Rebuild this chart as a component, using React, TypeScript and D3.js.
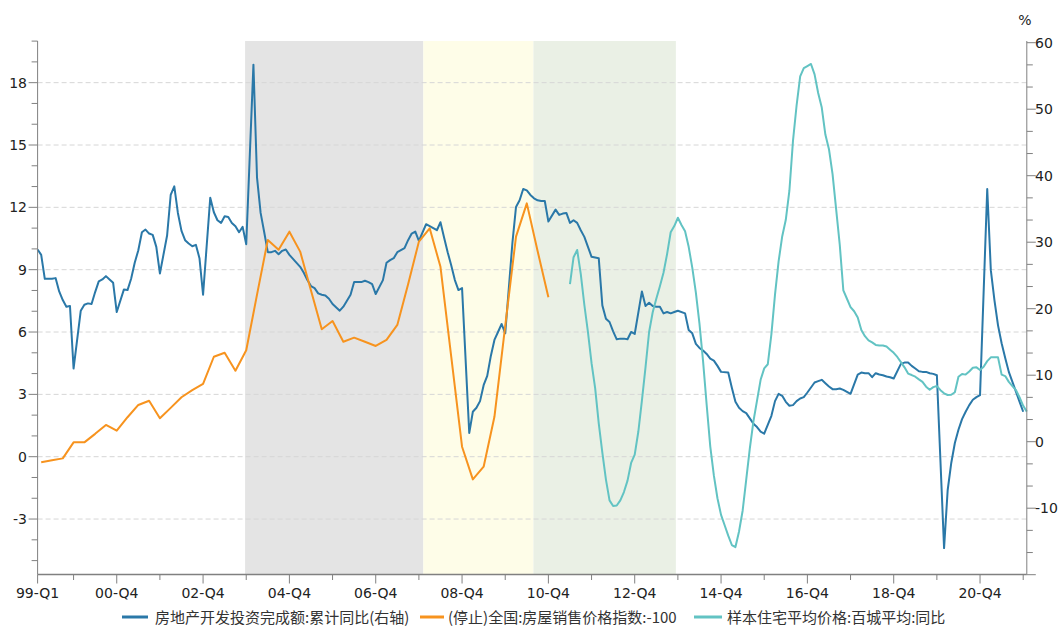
import React from "react";
import * as d3 from "d3";

const WIDTH = 1061;
const HEIGHT = 626;

// 房地产开发投资完成额:累计同比 (右轴) — monthly, Feb..Dec of each year
const investYears = [
  1999, 2000, 2001, 2002, 2003, 2004, 2005, 2006, 2007, 2008, 2009, 2010,
  2011, 2012, 2013, 2014, 2015, 2016, 2017, 2018, 2019, 2020, 2021,
];
const investMonths = [2, 3, 4, 5, 6, 7, 8, 9, 10, 11, 12];
const investYoY: number[][] = [
  [28.9, 28.1, 24.5, 24.5, 24.5, 24.6, 22.6, 21.3, 20.3, 20.4, 11.0],
  [19.7, 20.6, 20.8, 20.7, 22.5, 24.1, 24.4, 24.9, 24.4, 23.9, 19.5],
  [22.9, 22.8, 24.5, 26.9, 28.8, 31.5, 31.9, 31.3, 31.1, 29.3, 25.3],
  [31.0, 37.1, 38.4, 34.4, 31.7, 30.3, 29.8, 29.4, 29.6, 27.6, 22.1],
  [36.7, 34.5, 33.3, 32.9, 33.9, 33.8, 32.9, 32.4, 31.5, 32.3, 29.7],
  [56.7, 39.7, 34.4, 31.5, 28.5, 28.5, 28.7, 28.2, 28.7, 28.9, 28.1],
  [26.9, 26.3, 25.4, 24.3, 23.4, 23.1, 22.3, 22.1, 22.0, 21.5, 20.7],
  [19.7, 20.3, 21.2, 22.1, 24.0, 24.0, 24.0, 24.2, 24.0, 23.7, 22.2],
  [24.3, 26.9, 27.3, 27.6, 28.5, 28.8, 29.1, 30.3, 31.3, 31.6, 30.2],
  [32.7, 32.4, 32.1, 31.8, 33.0, 30.7, 28.5, 26.5, 24.3, 22.8, 23.1],
  [1.3, 4.5, 5.1, 6.1, 8.5, 9.9, 12.9, 15.3, 16.5, 17.7, 16.3],
  [29.9, 35.3, 36.3, 38.0, 37.8, 37.1, 36.6, 36.3, 36.2, 36.2, 33.1],
  [34.9, 34.1, 34.3, 34.4, 32.9, 33.3, 32.9, 31.8, 30.8, 29.3, 27.8],
  [27.6, 20.5, 18.5, 18.0, 16.6, 15.4, 15.5, 15.5, 15.4, 16.5, 16.2],
  [22.6, 20.4, 20.9, 20.4, 20.3, 20.3, 19.3, 19.5, 19.3, 19.5, 19.7],
  [19.3, 16.8, 16.3, 14.7, 14.1, 13.7, 13.2, 12.5, 12.2, 11.4, 10.5],
  [10.4, 8.1, 6.0, 5.1, 4.6, 4.3, 3.5, 2.7, 2.2, 1.5, 1.2],
  [3.9, 6.1, 7.2, 6.9, 6.0, 5.4, 5.5, 6.1, 6.5, 6.7, 7.4],
  [8.9, 9.1, 9.3, 8.8, 8.3, 7.9, 7.9, 8.0, 7.8, 7.5, 7.2],
  [10.1, 10.4, 10.3, 10.3, 9.7, 10.3, 10.1, 10.0, 9.8, 9.7, 9.5],
  [11.7, 11.9, 11.9, 11.4, 11.0, 10.6, 10.5, 10.5, 10.3, 10.2, 10.0],
  [-16.0, -7.3, -3.2, -0.2, 1.8, 3.4, 4.5, 5.5, 6.3, 6.7, 7.0],
  [38.0, 25.8, 21.3, 17.5, 14.8, 12.6, 10.5, 9.0, 7.5, 6.0, 4.5],
];

// (停止)全国:房屋销售价格指数:-100 — quarterly, 1999-Q1 .. 2010-Q4
const priceStartYear = 1999;
const priceIndex = [
  -0.27, -0.17, -0.08, 0.69,
  0.69, 1.1, 1.53, 1.25,
  1.9, 2.49, 2.69, 1.85,
  2.35, 2.86, 3.2, 3.5,
  4.81, 5.0, 4.14, 5.12,
  7.8, 10.43, 9.96, 10.83,
  9.87, 8.0, 6.13, 6.53,
  5.53, 5.73, 5.53, 5.33,
  5.62, 6.34, 8.3, 10.35,
  10.99, 9.14, 4.8, 0.48,
  -1.09, -0.48, 1.92, 6.3,
  10.59, 12.19, 9.9, 7.67,
];

// 样本住宅平均价格:百城平均:同比 — monthly from 2011-06
const cityStartYear = 2011;
const cityStartMonth = 6;
const cityPriceYoY = [
  8.3, 9.6, 9.95, 8.8, 7.3, 6.0, 4.5,
  3.3, 1.6, 0.2, -1.1, -2.1, -2.37, -2.35, -2.1, -1.7, -1.15, -0.3, 0.1,
  1.2, 2.7, 4.3, 6.0, 6.95, 7.6, 8.2, 8.85, 9.75, 10.8, 11.1, 11.5,
  11.15, 10.85, 10.1, 9.1, 7.9, 6.4, 4.6, 2.5, 0.5, -0.9, -2.0, -2.8,
  -3.3, -3.8, -4.25, -4.35, -3.6, -2.6, -1.1, 0.4, 1.7, 2.7, 3.7, 4.25,
  4.45, 5.9, 7.8, 9.4, 10.6, 11.4, 12.8, 15.2, 16.9, 18.3, 18.7, 18.8,
  18.9, 18.4, 17.5, 16.8, 15.5, 14.8, 13.6, 11.9, 10.2, 8.0, 7.6, 7.2,
  7.0, 6.7, 6.1, 5.8, 5.6, 5.5, 5.38, 5.35, 5.35, 5.3, 5.15, 5.0,
  4.8, 4.55, 4.3, 4.0, 3.93, 3.85, 3.72, 3.6, 3.37, 3.22, 3.35, 3.4,
  3.2, 3.05, 2.97, 2.98, 3.1, 3.85, 3.98, 3.95, 4.1, 4.28, 4.3, 4.17,
  4.33, 4.6, 4.78, 4.78, 4.78, 3.95, 3.88, 3.6, 3.4, 3.2, 2.85, 2.45,
  2.17,
];

// shaded periods (decimal years)
const bandFrom = [2003.89, 2008.02, 2010.57];
const bandTo = [2008.02, 2010.57, 2013.87];
const bandColors = ["#e4e4e4", "#fefde8", "#eaf0e5"];

const xLabels = [
  "99-Q1", "00-Q4", "02-Q4", "04-Q4", "06-Q4", "08-Q4", "10-Q4",
  "12-Q4", "14-Q4", "16-Q4", "18-Q4", "20-Q4",
];
const leftLabels = [-3, 0, 3, 6, 9, 12, 15, 18];
const rightLabels = [-10, 0, 10, 20, 30, 40, 50, 60];
const legendLabels = [
  "房地产开发投资完成额:累计同比(右轴)",
  "(停止)全国:房屋销售价格指数:-100",
  "样本住宅平均价格:百城平均:同比",
];

const COLORS = ["#2a78a8", "#f7931e", "#62c3c3"];
const AXIS = "#808080";
const TEXT = "#222";
const FONT = "'DejaVu Sans', Verdana, sans-serif";
const CJK = "'Noto Sans CJK SC', 'Noto Sans', sans-serif";

const ym = (y: number, m: number) => y + (m - 1) / 12;

export default function App() {
  const left = 37.6;
  const right = 1026.8;
  const top = 41;
  const bottom = 574.5;

  const x = d3.scaleLinear().domain([ym(1999, 2), ym(2022, 1)]).range([left, right]);
  const yL = d3.scaleLinear().domain([0, 20]).range([456.7, 41.1]);
  const yR = d3.scaleLinear().domain([-20, 60]).range([574.7, 42.7]);

  const investPts: [number, number][] = investYoY.flatMap((vals, i) =>
    vals.map((v, j) => [ym(investYears[i], investMonths[j]), v] as [number, number])
  );
  const pricePts: [number, number][] = priceIndex.map((v, i) => [
    ym(priceStartYear + Math.floor(i / 4), 3 + 3 * (i % 4)),
    v,
  ]);
  const cityPts: [number, number][] = cityPriceYoY.map((v, i) => {
    const mm = cityStartMonth - 1 + i;
    return [ym(cityStartYear + Math.floor(mm / 12), (mm % 12) + 1), v];
  });

  const lineR = d3.line<[number, number]>().x((d) => x(d[0])).y((d) => yR(d[1]));
  const lineL = d3.line<[number, number]>().x((d) => x(d[0])).y((d) => yL(d[1]));

  // x ticks: first at Feb 1999, then every December
  const xMajor = [ym(1999, 2), ...d3.range(2000, 2021, 2).map((y) => ym(y, 12))];
  const xMinor = d3.range(1999, 2022, 2).map((y) => ym(y, 12));

  const leftTicks = d3.range(-5, 21);
  const rightTicks = d3.range(0, 25).map((k) => -20 + (k * 10) / 3);

  const legendLineX = [[122, 148], [420, 444], [694, 722]];
  const legendTextX = [155, 448, 727];
  const legendY = 616;

  return (
    <svg
      width={WIDTH}
      height={HEIGHT}
      style={{ position: "absolute", left: 0, top: 0, background: "#fff" }}
    >
      {bandFrom.map((b, i) => (
        <rect
          key={"band" + i}
          x={x(b)}
          y={top}
          width={x(bandTo[i]) - x(b)}
          height={bottom - top}
          fill={bandColors[i]}
        />
      ))}

      {leftLabels.map((v) => (
        <line
          key={"grid" + v}
          x1={left}
          x2={right}
          y1={yL(v)}
          y2={yL(v)}
          stroke="#d6d6d6"
          strokeWidth={1}
          strokeDasharray="5,3"
        />
      ))}

      <path d={lineR(investPts) || ""} fill="none" stroke={COLORS[0]} strokeWidth={2} strokeLinejoin="round" />
      <path d={lineL(pricePts) || ""} fill="none" stroke={COLORS[1]} strokeWidth={2} strokeLinejoin="round" />
      <path d={lineL(cityPts) || ""} fill="none" stroke={COLORS[2]} strokeWidth={2} strokeLinejoin="round" />

      {/* axes */}
      <line x1={left} x2={left} y1={top} y2={bottom} stroke={AXIS} strokeWidth={1} />
      <line x1={right} x2={right} y1={top} y2={bottom} stroke={AXIS} strokeWidth={1} />
      <line x1={left} x2={right} y1={bottom} y2={bottom} stroke={AXIS} strokeWidth={1.5} />

      {leftTicks.map((v) => {
        const major = v % 3 === 0;
        return (
          <line
            key={"lt" + v}
            x1={left - (major ? 9 : 6)}
            x2={left}
            y1={yL(v)}
            y2={yL(v)}
            stroke={AXIS}
            strokeWidth={1}
          />
        );
      })}
      {leftLabels.map((v) => (
        <text
          key={"ll" + v}
          x={27}
          y={yL(v)}
          textAnchor="end"
          dominantBaseline="central"
          fontFamily={FONT}
          fontSize={14}
          fill={TEXT}
        >
          {v}
        </text>
      ))}

      {rightTicks.map((v, k) => {
        const major = k % 3 === 0;
        return (
          <line
            key={"rt" + k}
            x1={right}
            x2={right + (major ? 9 : 6)}
            y1={yR(v)}
            y2={yR(v)}
            stroke={AXIS}
            strokeWidth={1}
          />
        );
      })}
      {rightLabels.map((v) => (
        <text
          key={"rl" + v}
          x={1035}
          y={yR(v)}
          textAnchor="start"
          dominantBaseline="central"
          fontFamily={FONT}
          fontSize={14}
          fill={TEXT}
        >
          {v}
        </text>
      ))}
      <text x={1025} y={20} textAnchor="middle" dominantBaseline="central" fontFamily={FONT} fontSize={14} fill={TEXT}>
        %
      </text>

      {xMajor.map((t, i) => (
        <g key={"xm" + i}>
          <line x1={x(t)} x2={x(t)} y1={bottom} y2={bottom + 9} stroke={AXIS} strokeWidth={1} />
          <text
            x={x(t)}
            y={598}
            textAnchor="middle"
            fontFamily={FONT}
            fontSize={14}
            fill={TEXT}
          >
            {xLabels[i]}
          </text>
        </g>
      ))}
      {xMinor.map((t, i) => (
        <line key={"xn" + i} x1={x(t)} x2={x(t)} y1={bottom} y2={bottom + 5.5} stroke={AXIS} strokeWidth={1} />
      ))}

      {legendLabels.map((lab, i) => (
        <g key={"lg" + i}>
          <line
            x1={legendLineX[i][0]}
            x2={legendLineX[i][1]}
            y1={legendY + 1}
            y2={legendY + 1}
            stroke={COLORS[i]}
            strokeWidth={3}
          />
          <text
            x={legendTextX[i]}
            y={legendY}
            dominantBaseline="central"
            fontFamily={CJK}
            fontSize={15}
            fill="#333"
          >
            {lab}
          </text>
        </g>
      ))}
    </svg>
  );
}
